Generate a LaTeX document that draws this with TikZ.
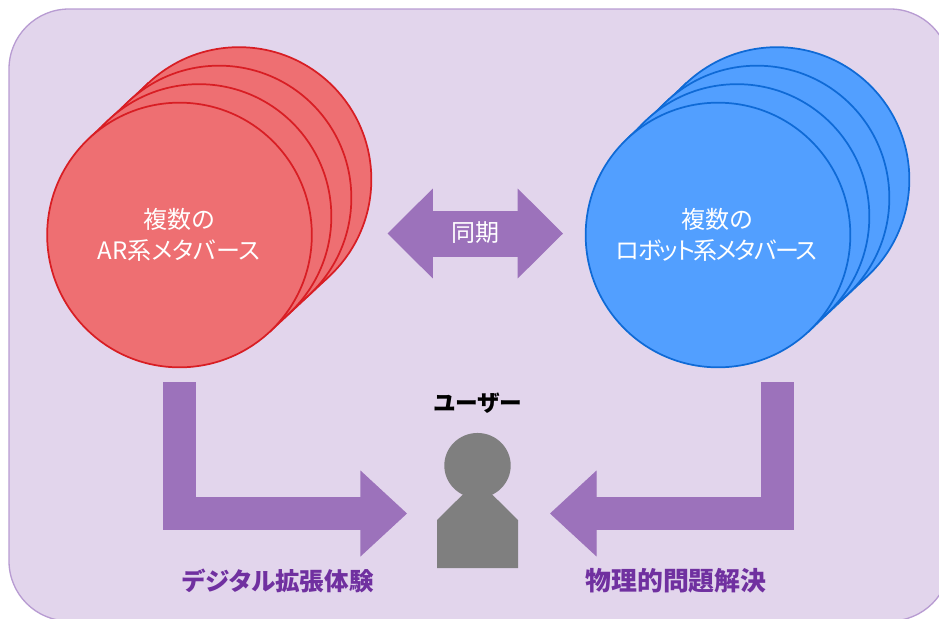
\documentclass[tikz,border=0pt]{standalone}
\usepackage{fontspec}
\setmainfont[RawFeature=+palt]{Noto Sans CJK JP}
\usepackage{tikz}
\usetikzlibrary{arrows.meta}
\usetikzlibrary{backgrounds}
\usetikzlibrary{positioning}
\usetikzlibrary{shapes.geometric}
\definecolor{panelfill}{HTML}{E2D5EC}
\definecolor{paneledge}{HTML}{B89CD2}
\definecolor{arrowfill}{HTML}{9C72BB}
\definecolor{labeltext}{HTML}{7030A0}
\definecolor{arfill}{HTML}{EE6F72}
\definecolor{aredge}{HTML}{D81E24}
\definecolor{robotfill}{HTML}{529FFF}
\definecolor{robotedge}{HTML}{0F6AD6}
\definecolor{userfill}{HTML}{7F7F7F}
\tikzset{
    world/.style={circle, draw, line width=1.3pt, minimum size=198.5pt, inner sep=0pt, outer sep=0pt},
    arworld/.style={world, fill=arfill, draw=aredge},
    robotworld/.style={world, fill=robotfill, draw=robotedge},
    hull/.style={line width=1.3pt, line join=round},
    worldtext/.style={text=white, font=\fontsize{18pt}{23.5pt}\selectfont, align=center},
    goal/.style={text=labeltext, font=\fontsize{19.4pt}{22pt}\selectfont\bfseries},
    bent/.style={draw=arrowfill, line width=24.5pt,
        -{Triangle[length=35pt, width=64.5pt, line width=1pt]}},
    sync/.style={draw=arrowfill, line width=34.5pt,
        {Triangle[length=34pt, width=67.3pt, line width=1pt]}-{Triangle[length=34pt, width=67.3pt, line width=1pt]}}
}

\begin{document}
\begin{tikzpicture}[x=0.75pt, y=-0.75pt]
    \useasboundingbox (0,0) rectangle (939,618);
    \clip (0,0) rectangle (939,618);

    \node[arworld] (ar-4) at (239,179.5) {};
    \node[arworld] (ar-3) at (219,198) {};
    \node[arworld] (ar-2) at (199,216.5) {};
    \node[arworld] (ar-1) at (179.5,235) {};
    \node[worldtext] (ar-text) at (179,235) {複数の\\AR系メタバース};

    \node[robotworld] (robot-4) at (777,179.5) {};
    \node[robotworld] (robot-3) at (757,198) {};
    \node[robotworld] (robot-2) at (737,216.5) {};
    \node[robotworld] (robot-1) at (718,235) {};
    \node[worldtext] (robot-text) at (717,235) {複数の\\{\addfontfeature{LetterSpace=-7}ロボット系メタバース}};

    \begin{scope}[on background layer]
        \draw[fill=panelfill, draw=paneledge, line width=1pt, rounded corners=45pt] (9,9) rectangle (950,621);
        \draw[hull, fill=arfill, draw=aredge] (ar-1.133) -- (ar-4.133) -- (ar-4.-47) -- (ar-1.-47) -- cycle;
        \draw[hull, fill=robotfill, draw=robotedge] (robot-1.133) -- (robot-4.133) -- (robot-4.-47) -- (robot-1.-47) -- cycle;
    \end{scope}

    \coordinate (sync-left) at (387.5,233.5);
    \coordinate (sync-right) at (563,233.5);
    \draw[sync] (sync-left) -- (sync-right);
    \node[worldtext] (sync-text) at (475,233) {同期};

    \node[fill=userfill, ellipse, minimum width=49.8pt, minimum height=48.8pt, inner sep=0pt] (user-head) at (477.5,465.5) {};
    \fill[userfill] (437,568) -- (437,520) -- (477.5,480) -- (518,520) -- (518,568) -- cycle;
    \node[font=\fontsize{17pt}{20pt}\selectfont\bfseries, above=11pt of user-head] (user-text) {ユーザー};

    \coordinate (ar-foot) at (179.5,382);
    \coordinate (user-left) at (407,513.5);
    \coordinate (robot-foot) at (777.5,382);
    \coordinate (user-right) at (550,513.5);
    \draw[bent] (ar-foot) |- (user-left);
    \draw[bent] (robot-foot) |- (user-right);

    \node[goal, font=\fontsize{18.4pt}{22pt}\selectfont\bfseries] (ar-goal) at (278,581) {デジタル拡張体験};
    \node[goal] (robot-goal) at (676,581) {物理的問題解決};
\end{tikzpicture}
\end{document}
